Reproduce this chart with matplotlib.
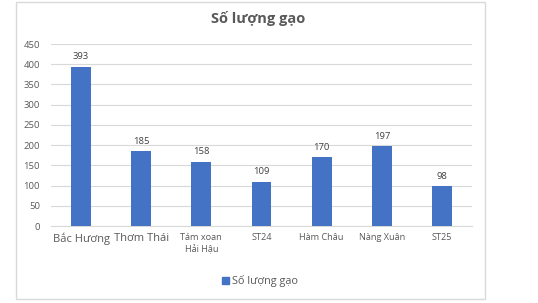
import matplotlib.pyplot as plt
from matplotlib.patches import Rectangle, Patch
import numpy as np

plt.rcParams['font.family'] = ['Open Sans', 'DejaVu Sans']

categories = ["Bắc Hương", "Thơm Thái", "Tám xoan\nHải Hậu", "ST24", "Hàm Châu", "Nàng Xuân", "ST25"]
values = [393, 185, 158, 109, 170, 197, 98]
label_sizes = [8, 8, 6.6, 6.6, 6.6, 6.6, 6.6]

BAR = "#4472C4"
GREY = "#595959"

fig = plt.figure(figsize=(5.38, 3.03), dpi=100)
fig.patches.append(Rectangle((16 / 538, 1 - 299 / 303), 469 / 538, 297 / 303,
                             transform=fig.transFigure, fill=False,
                             edgecolor="#d9d9d9", linewidth=1))

ax = fig.add_axes([51 / 538, 1 - 226 / 303, 421 / 538, 182 / 303])
x = np.arange(len(categories))
ax.bar(x, values, width=0.33, color=BAR, zorder=3)
for xi, v in zip(x, values):
    ax.text(xi, v + 14, str(v), ha="center", va="bottom", fontsize=6.8, color="#404040")

ax.set_xlim(-0.5, len(categories) - 0.5)
ax.set_ylim(0, 450)
ax.set_yticks(np.arange(0, 451, 50))
ax.yaxis.grid(True, color="#d9d9d9", linewidth=0.8, zorder=0)
ax.tick_params(axis="y", length=0, labelsize=6.8, labelcolor=GREY, pad=8)
ax.tick_params(axis="x", length=0, pad=5)
ax.set_xticks(x)
ax.set_xticklabels(categories, color=GREY, va="top", linespacing=1.3)
for lbl, s in zip(ax.get_xticklabels(), label_sizes):
    lbl.set_fontsize(s)
for sp in ["top", "right", "left"]:
    ax.spines[sp].set_visible(False)
ax.spines["bottom"].set_color("#d9d9d9")

fig.text(258 / 538, 1 - 18 / 303, "Số lượng gạo", ha="center", va="center",
         fontsize=10.5, fontweight="bold", color=GREY)

fig.legend(handles=[Patch(color=BAR, label="Số lượng gạo")], loc="center",
           bbox_to_anchor=(260 / 538, 1 - 281 / 303), frameon=False,
           fontsize=7.8, labelcolor=GREY, handlelength=0.6, handleheight=0.6,
           handletextpad=0.3)

fig.savefig("out.png", dpi=100)
